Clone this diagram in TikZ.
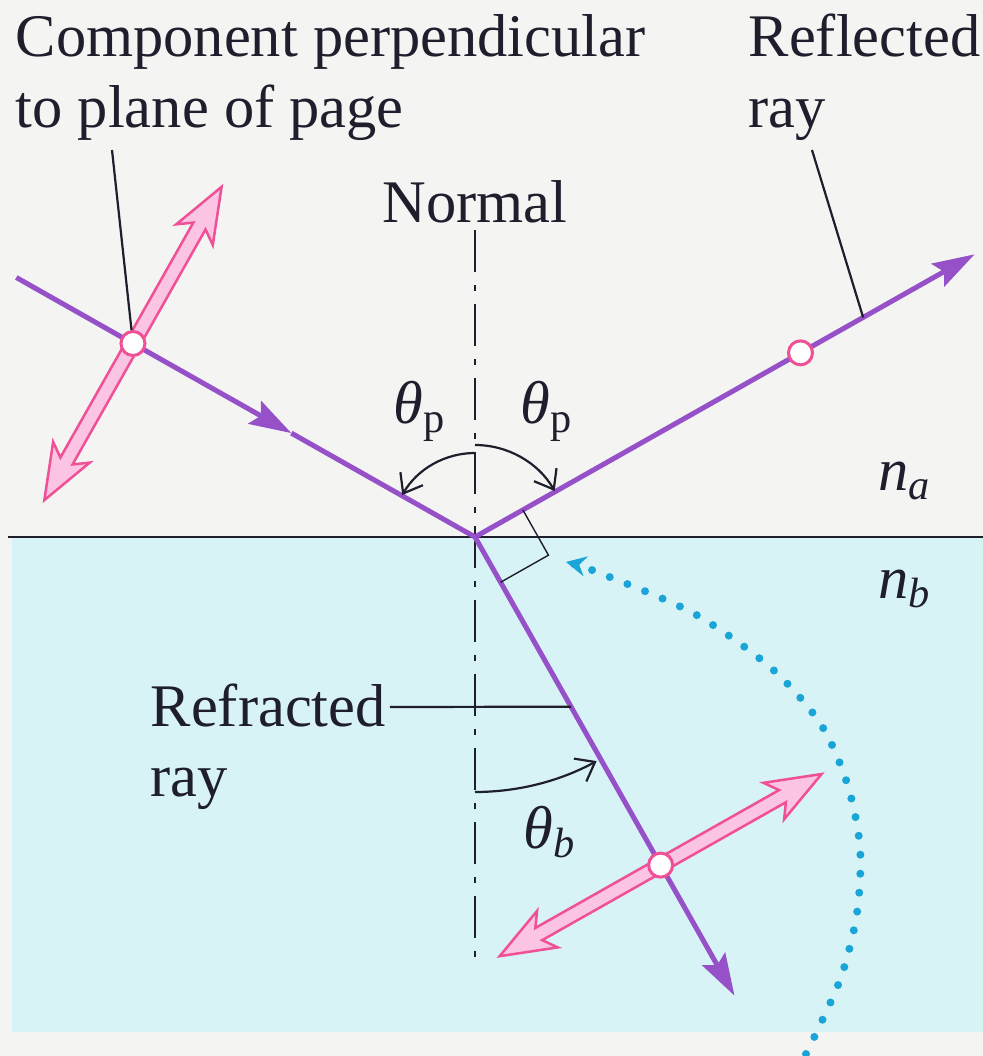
\documentclass[tikz,border=0pt]{standalone}
\usepackage{amsmath}
\usepackage{fontspec}
\setmainfont{Liberation Serif}
\usetikzlibrary{calc,arrows.meta,positioning}
\definecolor{paperGray}{RGB}{244,244,242}
\definecolor{glassCyan}{RGB}{216,243,246}
\definecolor{inkBlack}{RGB}{30,30,45}
\definecolor{rayPurple}{RGB}{150,80,200}
\definecolor{polPink}{RGB}{240,80,150}
\definecolor{polFill}{RGB}{250,196,226}
\definecolor{dotBlue}{RGB}{25,165,215}
\newcommand{\thetaP}{$\textit{θ}_{\text{p}}$}
\newcommand{\thetaB}{$\textit{θ}_{\textit{b}}$}
\newcommand{\nIdx}[1]{$\textit{n}_{\textit{#1}}$}
\newcommand{\polArrow}[3]{%
  \begin{scope}[shift={(#1)},rotate=#2]
    \filldraw[polbody] (#3,0) -- ({#3-55},21) -- ({#3-45},7) -- ({-#3+45},7) -- ({-#3+55},21)
      -- (-#3,0) -- ({-#3+55},-21) -- ({-#3+45},-7) -- ({#3-45},-7) -- ({#3-55},-21) -- cycle;
  \end{scope}}
\tikzset{
  lbl/.style={font=\fontsize{17.2}{20}\selectfont,text=inkBlack,inner sep=0pt,align=left},
  ray/.style={rayPurple,line width=0.05cm},
  raytip/.style={-{Stealth[length=0.42cm,width=0.26cm,inset=0.07cm]}},
  leader/.style={inkBlack,line width=0.022cm},
  angarc/.style={inkBlack,line width=0.022cm,-{Straight Barb[length=0.17cm,width=0.26cm]}},
  normalline/.style={inkBlack,line width=0.022cm,dash pattern=on 0.42cm off 0.13cm on 0.06cm off 0.13cm},
  pol/.style={circle,draw=polPink,fill=white,line width=0.03cm,minimum size=0.24cm,inner sep=0pt},
  polbody/.style={draw=polPink,fill=polFill,line width=0.025cm,line join=miter},
  rotpath/.style={dotBlue,line width=0.08cm,line cap=round,dash pattern=on 0pt off 0.19cm,
    -{Stealth[length=0.2cm,width=0.2cm]}}
}
\begin{document}
\begin{tikzpicture}[x=0.01cm,y=0.01cm]
% paper and the lower medium
\fill[paperGray] (0,0) rectangle (983,1056);
\fill[glassCyan] (12,24) rectangle (983,519);
\useasboundingbox (0,0) rectangle (983,1056);

\coordinate (O) at (475,519);
\coordinate (inS) at ($(O)+(150.5:527)$);
\coordinate (inM) at ($(O)+(150.5:211)$);
\coordinate (reE) at ($(O)+(29.5:574)$);
\coordinate (rfE) at ($(O)+(-60.5:527)$);
\coordinate (cA) at ($(O)+(150.5:393)$);
\coordinate (cR) at ($(O)+(29.5:374)$);
\coordinate (cB) at ($(O)+(-60.5:377)$);
\coordinate (reL) at ($(O)+(29.5:446)$);
\coordinate (rfL) at ($(O)+(-60.5:195)$);

% interface and normal
\draw[inkBlack,line width=0.022cm] (8,519) -- (983,519);
\draw[normalline] (475,826) -- (475,91);

% rays
\draw[ray,raytip] (inS) -- (inM);
\draw[ray] (inM) -- (O);
\draw[ray,raytip] (O) -- (reE);
\draw[ray,raytip] (O) -- (rfE);

% field components
\polArrow{cA}{60.5}{180}
\polArrow{cB}{29.5}{185}
\node[pol] (pA) at (cA) {};
\node[pol] (pR) at (cR) {};
\node[pol] (pB) at (cB) {};

% angles
\draw[angarc] ($(O)+(90:84)$) arc[start angle=90,end angle=150,radius=84];
\draw[angarc] ($(O)+(90:92)$) arc[start angle=90,end angle=30,radius=92];
\draw[angarc] ($(O)+(-90:255)$) arc[start angle=-90,end angle=-61.5,radius=255];
\draw[inkBlack,line width=0.014cm] ($(O)+(29.5:55)$) -- ($(O)+(29.5:55)+(-60.5:52)$) -- ($(O)+(-60.5:52)$);

% rotation of the field
\draw[rotpath] plot[smooth] coordinates {(806,2) (840,76) (857,143) (860,209) (847,273) (820,333) (770,389) (693,443) (597,484) (566,494)};

% labels (base = last line)
\node[lbl,anchor=base west] (comp) at (15,929) {Component perpendicular\\to plane of page};
\node[lbl,anchor=base west] (refl) at (748,929) {Reflected\\ray};
\node[lbl,anchor=base] (nrm) at (475,834) {Normal};
\node[lbl,anchor=base west] (refr) at (150,259) {Refracted\\ray};
\node[lbl,anchor=base west] (tpL) at (393,633) {\thetaP};
\node[lbl,anchor=base west] (tpR) at (520,633) {\thetaP};
\node[lbl,anchor=base west] (tb) at (523,208) {\thetaB};
\node[lbl,anchor=base west] (na) at (878,566) {\nIdx{a}};
\node[lbl,anchor=base west] (nb) at (878,458) {\nIdx{b}};
\coordinate (compL) at (112,906);
\coordinate (reflL) at (812,906);
\coordinate (refrL) at (390,349);
\draw[leader] (compL) -- (pA);
\draw[leader] (reflL) -- (reL);
\draw[leader] (refrL) -- (rfL);
\end{tikzpicture}
\end{document}
